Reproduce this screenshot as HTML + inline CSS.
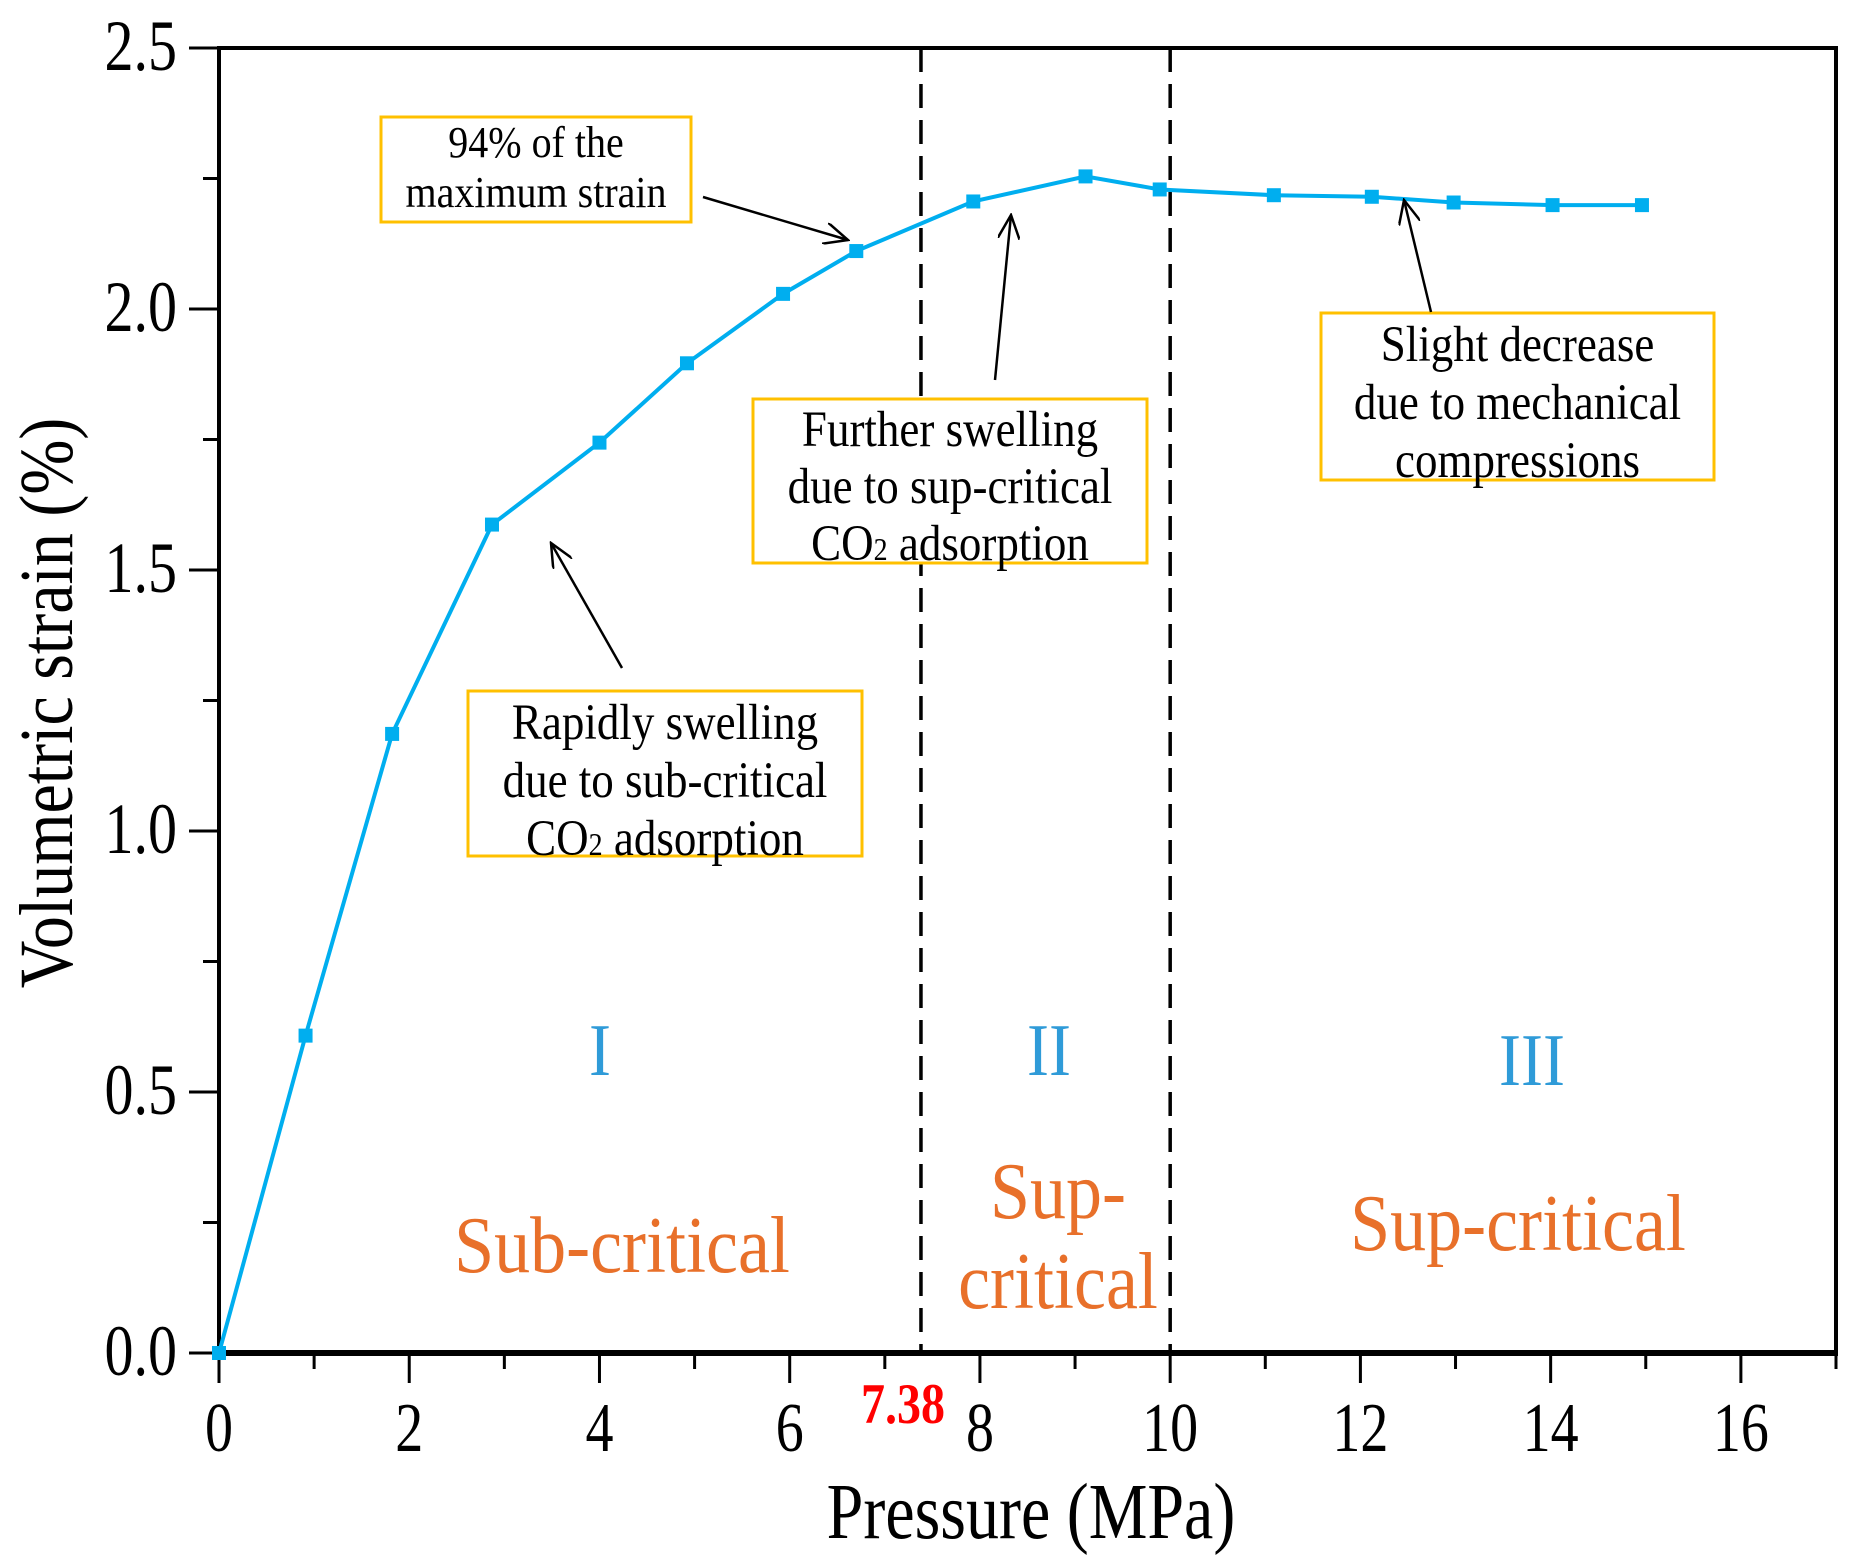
<!DOCTYPE html>
<html><head><meta charset="utf-8"><style>
html,body{margin:0;padding:0;background:#fff;}
svg{display:block;font-family:"Liberation Serif",serif;}
</style></head><body>
<svg id="chart" width="1860" height="1564" viewBox="0 0 1860 1564" xmlns="http://www.w3.org/2000/svg">
<defs><marker id="ah" markerWidth="26" markerHeight="22" refX="24" refY="11" orient="auto" markerUnits="userSpaceOnUse"><path d="M0,0 L24,11 L0,22" fill="none" stroke="#000" stroke-width="2.5"/></marker></defs>
<g id="plot"></g>
</svg>
<script>
const pressure=[0,0.91,1.82,2.87,4.0,4.92,5.93,6.70,7.93,9.11,9.89,11.09,12.12,12.98,14.02,14.96];
const strain=[0,0.608,1.186,1.587,1.744,1.896,2.029,2.111,2.206,2.254,2.229,2.218,2.215,2.204,2.199,2.199];
const xTicks=[0,2,4,6,8,10,12,14,16];
const yTicks=[0.0,0.5,1.0,1.5,2.0,2.5];
const dividers=[7.38,10];

const X0=219,X1=1836,Y0=1353,Y1=48,XMAX=17,YMAX=2.5;
const sx=v=>X0+(X1-X0)*v/XMAX, sy=v=>Y0-(Y0-Y1)*v/YMAX;
const g=document.getElementById('plot'),NS='http://www.w3.org/2000/svg';
function mk(tag,attrs,parent){const e=document.createElementNS(NS,tag);for(const k in attrs)e.setAttribute(k,attrs[k]);(parent||g).appendChild(e);return e;}
function stext(x,y,s,fs,anchor,sc,extra){const t=mk('text',Object.assign({x:0,y:0,'font-size':fs,'text-anchor':anchor,transform:`translate(${x},${y}) scale(1,${sc})`},extra||{}));t.textContent=s;return t;}
// frame
let fr=mk('rect',{x:X0,y:Y1,width:X1-X0,height:Y0-Y1,fill:'none',stroke:'#000','stroke-width':4});


let xb=mk('line',{x1:X0-4,x2:X1+2,y1:Y0,y2:Y0,stroke:'#000','stroke-width':6});


// x ticks
for(let v=0;v<=XMAX;v++){const maj=v%2===0;let t=mk('line',{x1:sx(v),x2:sx(v),y1:Y0,y2:Y0+(maj?30:16),stroke:'#000','stroke-width':3});

}
xTicks.forEach(v=>{let t=stext(sx(v),Y0+98,String(v),56,'middle',1.25);

});
// y ticks
for(let i=0;i<=10;i++){const v=i*0.25;const maj=i%2===0;let t=mk('line',{x1:X0-(maj?30:16),x2:X0,y1:sy(v),y2:sy(v),stroke:'#000','stroke-width':3});

}
yTicks.forEach(v=>{let t=stext(X0-42,sy(v)+22,v.toFixed(1),58,'end',1.25);

});
// dividers
dividers.forEach(v=>{let l=mk('line',{x1:sx(v),x2:sx(v),y1:Y1,y2:Y0,stroke:'#000','stroke-width':3.5,'stroke-dasharray':'24,12'});

});
let r=stext(sx(7.38)-18,Y0+70,'7.38',48,'middle',1.2,{'font-weight':'bold',fill:'#ff0000'});


// series
let ln=mk('polyline',{points:pressure.map((p,i)=>sx(p)+','+sy(strain[i])).join(' '),fill:'none',stroke:'#00aeef','stroke-width':4});


pressure.forEach((p,i)=>{let m=mk('rect',{x:sx(p)-7,y:sy(strain[i])-7,width:14,height:14,fill:'#00aeef'});

});
// annotation boxes
function box(name,x,y,w,h,lines,fs,lh){const gg=mk('g',{});
mk('rect',{x:x,y:y,width:w,height:h,fill:'#fff',stroke:'#ffc000','stroke-width':3},gg);
lines.forEach((s,i)=>{const t=mk('text',{x:0,y:0,'font-size':fs,'text-anchor':'middle',transform:`translate(${x+w/2},${y+lh*(i+1)-10}) scale(1,1.12)`},gg);t.innerHTML=s;});}
function arrow(name,x1,y1,x2,y2){let a=mk('line',{x1,y1,x2,y2,stroke:'#000','stroke-width':2.5,'marker-end':'url(#ah)'});

}
box('annotation-94-percent',381,117,310,105,['94% of the','maximum strain'],40,50);
arrow('arrow-94-percent',703,197,848,240);
box('annotation-further-swelling',753,399,394,164,['Further swelling','due to sup-critical','CO<tspan font-size="28">2</tspan> adsorption'],45,57);
arrow('arrow-further-swelling',995,380,1011,215);
box('annotation-slight-decrease',1321,313,393,167,['Slight decrease','due to mechanical','compressions'],45,58);
arrow('arrow-slight-decrease',1431,312,1404,200);
box('annotation-rapid-swelling',468,691,394,165,['Rapidly swelling','due to sub-critical','CO<tspan font-size="28">2</tspan> adsorption'],45,58);
arrow('arrow-rapid-swelling',622,668,551,543);
// region labels
function lbl(name,x,y,s,fs,col,sc){let t=stext(x,y,s,fs,'middle',sc||1.12,{fill:col});

}
lbl('region-i',600,1075,'I',66,'#2f9bd8');
lbl('region-ii',1049,1075,'II',66,'#2f9bd8');
lbl('region-iii',1532,1085,'III',66,'#2f9bd8');
lbl('sub-critical-label',622,1272,'Sub-critical',72,'#e8702a');
lbl('sup-critical-label-ii-1',1058,1218,'Sup-',72,'#e8702a');
lbl('sup-critical-label-ii-2',1058,1308,'critical',72,'#e8702a');
lbl('sup-critical-label-iii',1518,1250,'Sup-critical',72,'#e8702a');
// axis titles
lbl('x-axis-title',1031,1538,'Pressure (MPa)',66,'#000',1.2);
let yt=mk('text',{x:0,y:0,'font-size':66,'text-anchor':'middle',transform:'translate(72,703) rotate(-90) scale(1,1.15)'});yt.textContent='Volumetric strain (%)';


</script>
</body></html>
